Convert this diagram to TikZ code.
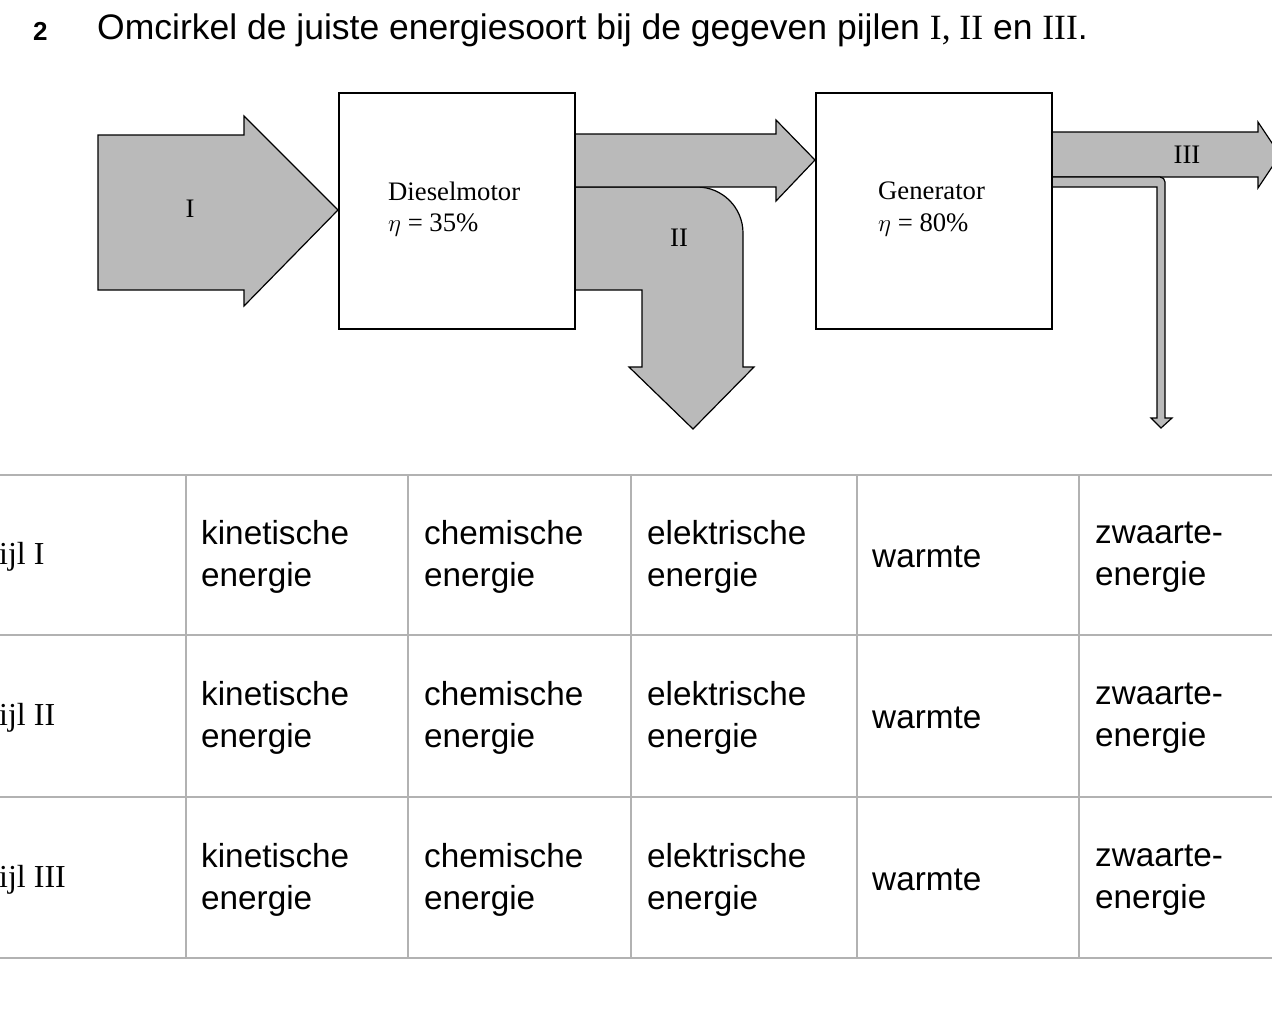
\documentclass[tikz,border=0pt]{standalone}
\usepackage{fontspec}
\setsansfont{Liberation Sans}
\newfontfamily\tms{Liberation Serif}
\begin{document}
\begin{tikzpicture}[x=1pt,y=-1pt,
 arr/.style={fill=black!27,draw=black,line width=1.2pt,line join=miter},
 box/.style={draw=black,line width=2pt},
 grid/.style={draw=black!30,line width=2.5pt},
 lbl/.style={font=\tms\fontsize{26.7}{30}\selectfont,inner sep=0pt},
 cell/.style={font=\sffamily\fontsize{33.3}{42}\selectfont,align=left,anchor=west,inner sep=0pt},
 rowl/.style={font=\tms\fontsize{32}{36}\selectfont,anchor=west,inner sep=0pt}]
\useasboundingbox (0,0) rectangle (1272,1023);
\node[anchor=west,inner sep=0pt,font=\sffamily\bfseries\fontsize{26}{28}\selectfont] (num) at (33,31) {2};
\node[anchor=west,inner sep=0pt,font=\sffamily\fontsize{35.5}{38}\selectfont] (title) at (97,30) {Omcirkel de juiste energiesoort bij de gegeven pijlen {\tms I, II} en {\tms III}.};
% arrow I
\draw[arr] (98,135) -- (244,135) -- (244,116) -- (338,210) -- (244,306) -- (244,290) -- (98,290) -- cycle;
% arrow II
\draw[arr] (575,187) -- (697,187) arc[start angle=-90,end angle=0,radius=46] -- (743,367) -- (754,367) -- (693,429) -- (629,367) -- (642,367) -- (642,290) -- (575,290) -- cycle;
% top arrow
\draw[arr] (575,134) -- (776,134) -- (776,120) -- (815,160) -- (776,201) -- (776,187) -- (575,187) -- cycle;
% arrow III
\draw[arr] (1052,132) -- (1258,132) -- (1258,122) -- (1280,155) -- (1258,188) -- (1258,177) -- (1052,177) -- cycle;
\draw[arr] (1052,177) -- (1160,177) arc[start angle=-90,end angle=0,radius=5] -- (1165,418) -- (1172,418) -- (1161,428) -- (1151,418) -- (1157,418) -- (1157,187) -- (1052,187) -- cycle;
\draw[box,fill=white] (339,93) rectangle (575,329);
\draw[box,fill=white] (816,93) rectangle (1052,329);
\node[lbl] (l1) at (190,209) {I};
\node[lbl] (l2) at (679,238) {II};
\node[lbl] (l3) at (1187,155) {III};
\node[lbl,anchor=west] (d1) at (388,191) {Dieselmotor};
\node[lbl,anchor=west] (d2) at (388,225) {$\eta$ = 35\%};
\node[lbl,anchor=west] (g1) at (878,191) {Generator};
\node[lbl,anchor=west] (g2) at (878,225) {$\eta$ = 80\%};
% table
\foreach \y in {475,635,797,958} \draw[grid] (0,\y) -- (1272,\y);
\foreach \x in {186,408,631,857,1079} \draw[grid] (\x,475) -- (\x,958);
\foreach \y/\r in {557/I,718/II,880/III}{
 \node[rowl] at (-17,\y) {pijl \r};
 \node[cell] at (201,\y) {kinetische\\energie};
 \node[cell] at (424,\y) {chemische\\energie};
 \node[cell] at (647,\y) {elektrische\\energie};
 \node[cell] at (872,\y) {warmte};
 \node[cell] at (1095,\y) {zwaarte-\\energie};
}
\end{tikzpicture}
\end{document}
